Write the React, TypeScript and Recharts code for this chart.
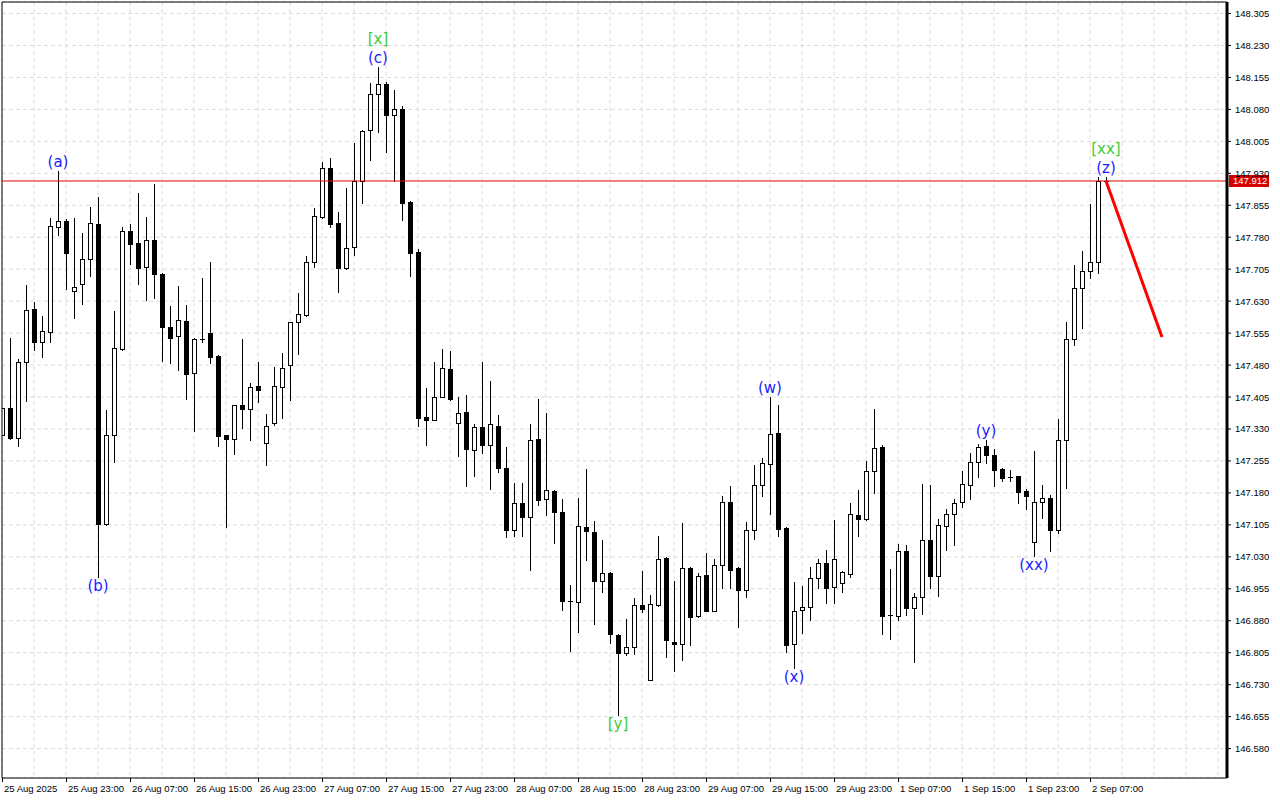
import React from 'react';
import { ComposedChart, Bar, XAxis, YAxis, CartesianGrid, ReferenceLine, ReferenceDot } from 'recharts';

// H1 bars, 25 Aug 15:00 .. 2 Sep 08:00 (index = bar number)
const opens = [
  147.317, 147.379, 147.308, 147.487, 147.611, 147.533, 147.558, 147.805, 147.819, 147.654,
  147.671, 147.729, 147.811, 147.108, 147.315, 147.518, 147.795, 147.766, 147.710, 147.774,
  147.694, 147.569, 147.548, 147.583, 147.461, 147.541, 147.555, 147.501, 147.315, 147.306,
  147.386, 147.376, 147.430, 147.297, 147.343, 147.428, 147.479, 147.580, 147.597, 147.722,
  147.828, 147.942, 147.813, 147.707, 147.756, 147.913, 148.031, 148.116, 148.139, 148.066,
  148.082, 147.862, 147.745, 147.358, 147.352, 147.405, 147.470, 147.345, 147.370, 147.280,
  147.334, 147.293, 147.338, 147.238, 147.092, 147.156, 147.124, 147.306, 147.165, 147.184,
  147.136, 146.927, 146.925, 147.101, 147.089, 146.974, 146.991, 146.846, 146.805, 146.818,
  146.916, 146.742, 146.917, 147.027, 146.829, 146.825, 147.003, 146.892, 146.987, 146.904,
  147.012, 147.158, 147.004, 146.951, 147.094, 147.198, 147.247, 147.321, 147.097, 146.825,
  146.905, 146.912, 146.980, 147.015, 146.959, 146.968, 146.989, 147.128, 147.119, 147.231,
  147.287, 146.893, 146.892, 147.043, 146.911, 146.935, 147.069, 146.984, 147.102, 147.130,
  147.158, 147.198, 147.252, 147.289, 147.270, 147.235, 147.218, 147.219, 147.184, 147.064,
  147.158, 147.167, 147.092, 147.303, 147.541, 147.660, 147.700, 147.721, 147.912,
];
const highs = [
  147.380, 147.543, 147.494, 147.668, 147.628, 147.595, 147.825, 147.936, 147.823, 147.824,
  147.791, 147.852, 147.875, 147.374, 147.607, 147.804, 147.811, 147.884, 147.828, 147.905,
  147.696, 147.619, 147.666, 147.621, 147.544, 147.685, 147.721, 147.503, 147.317, 147.387,
  147.541, 147.437, 147.487, 147.366, 147.475, 147.509, 147.582, 147.649, 147.736, 147.848,
  147.956, 147.965, 147.839, 147.895, 148.001, 148.031, 148.141, 148.179, 148.144, 148.125,
  148.089, 147.864, 147.752, 147.426, 147.487, 147.518, 147.513, 147.406, 147.409, 147.341,
  147.487, 147.443, 147.364, 147.287, 147.204, 147.204, 147.342, 147.400, 147.367, 147.186,
  147.165, 146.965, 147.168, 147.235, 147.115, 147.069, 146.994, 146.850, 146.885, 146.933,
  146.996, 146.940, 147.079, 147.029, 146.973, 147.109, 147.005, 146.991, 147.038, 147.025,
  147.173, 147.196, 147.006, 147.111, 147.245, 147.261, 147.405, 147.386, 147.099, 146.971,
  146.961, 147.006, 147.024, 147.046, 147.116, 146.997, 147.156, 147.187, 147.255, 147.377,
  147.292, 147.001, 147.060, 147.058, 146.944, 147.201, 147.198, 147.118, 147.142, 147.166,
  147.231, 147.273, 147.294, 147.304, 147.282, 147.239, 147.233, 147.220, 147.189, 147.278,
  147.198, 147.174, 147.353, 147.581, 147.714, 147.747, 147.858, 147.921, 147.922,
];
const lows = [
  147.316, 147.307, 147.290, 147.396, 147.516, 147.500, 147.535, 147.786, 147.659, 147.591,
  147.624, 147.690, 146.982, 147.105, 147.253, 147.516, 147.718, 147.671, 147.633, 147.637,
  147.490, 147.486, 147.468, 147.400, 147.326, 147.535, 147.486, 147.291, 147.100, 147.271,
  147.333, 147.305, 147.394, 147.245, 147.340, 147.356, 147.399, 147.507, 147.595, 147.709,
  147.826, 147.803, 147.652, 147.705, 147.739, 147.861, 147.962, 148.028, 147.981, 147.913,
  147.821, 147.688, 147.337, 147.292, 147.350, 147.404, 147.397, 147.267, 147.196, 147.220,
  147.273, 147.190, 147.228, 147.076, 147.079, 147.079, 146.998, 147.152, 147.129, 147.062,
  146.905, 146.809, 146.854, 147.023, 146.873, 146.948, 146.828, 146.659, 146.799, 146.802,
  146.900, 146.740, 146.915, 146.794, 146.763, 146.789, 146.824, 146.889, 146.902, 146.902,
  146.957, 146.957, 146.866, 146.936, 147.072, 147.173, 147.130, 147.079, 146.807, 146.768,
  146.852, 146.881, 146.957, 146.921, 146.922, 146.948, 146.982, 147.079, 147.117, 147.180,
  146.849, 146.838, 146.881, 146.893, 146.784, 146.897, 146.958, 146.937, 147.046, 147.058,
  147.148, 147.165, 147.218, 147.251, 147.197, 147.209, 147.209, 147.156, 147.143, 147.031,
  147.120, 147.044, 147.087, 147.192, 147.526, 147.568, 147.684, 147.695, 147.910,
];
const closes = [
  147.379, 147.310, 147.487, 147.609, 147.533, 147.559, 147.806, 147.819, 147.742, 147.664,
  147.730, 147.813, 147.107, 147.315, 147.519, 147.795, 147.764, 147.707, 147.774, 147.693,
  147.570, 147.544, 147.585, 147.460, 147.541, 147.540, 147.499, 147.314, 147.306, 147.386,
  147.376, 147.428, 147.421, 147.338, 147.430, 147.473, 147.580, 147.599, 147.722, 147.829,
  147.942, 147.812, 147.707, 147.754, 147.911, 148.029, 148.116, 148.139, 148.066, 148.080,
  147.861, 147.744, 147.356, 147.352, 147.406, 147.472, 147.400, 147.367, 147.282, 147.334,
  147.293, 147.341, 147.239, 147.093, 147.156, 147.124, 147.303, 147.164, 147.186, 147.136,
  146.927, 146.926, 147.102, 147.090, 146.974, 146.991, 146.848, 146.805, 146.818, 146.916,
  146.907, 146.919, 147.026, 146.834, 146.825, 147.003, 146.889, 146.984, 146.904, 147.012,
  147.158, 147.000, 146.951, 147.092, 147.198, 147.250, 147.318, 147.096, 146.824, 146.904,
  146.912, 146.980, 147.015, 146.957, 147.026, 146.995, 147.130, 147.118, 147.231, 147.285,
  146.892, 146.891, 147.043, 146.911, 146.935, 147.069, 146.984, 147.104, 147.130, 147.156,
  147.200, 147.252, 147.287, 147.268, 147.233, 147.216, 147.216, 147.183, 147.173, 147.158,
  147.167, 147.092, 147.303, 147.541, 147.660, 147.700, 147.721, 147.912, 147.912,
];

// one label every 8 bars
const xTickLabels = [
  '25 Aug 2025', '25 Aug 23:00', '26 Aug 07:00', '26 Aug 15:00', '26 Aug 23:00', '27 Aug 07:00',
  '27 Aug 15:00', '27 Aug 23:00', '28 Aug 07:00', '28 Aug 15:00', '28 Aug 23:00', '29 Aug 07:00',
  '29 Aug 15:00', '29 Aug 23:00', '1 Sep 07:00', '1 Sep 15:00', '1 Sep 23:00', '2 Sep 07:00',
];

const yTicks = [
  146.58, 146.655, 146.73, 146.805, 146.88, 146.955, 147.03, 147.105, 147.18, 147.255, 147.33, 147.405,
  147.48, 147.555, 147.63, 147.705, 147.78, 147.855, 147.93, 148.005, 148.08, 148.155, 148.23, 148.305,
];

const currentPrice = 147.912;
const forecastFrom = { i: 138, price: 147.912 };
const forecastTo = { i: 145, price: 147.546 };

const BLUE = '#1c1cff';
const GREEN = '#3ccc3c';

const waveLabels = [
  { i: 7, text: '(a)', color: BLUE, at: 'high', row: 0 },
  { i: 12, text: '(b)', color: BLUE, at: 'low', row: 0 },
  { i: 47, text: '(c)', color: BLUE, at: 'high', row: 0 },
  { i: 47, text: '[x]', color: GREEN, at: 'high', row: 1 },
  { i: 77, text: '[y]', color: GREEN, at: 'low', row: 0 },
  { i: 96, text: '(w)', color: BLUE, at: 'high', row: 0 },
  { i: 99, text: '(x)', color: BLUE, at: 'low', row: 0 },
  { i: 123, text: '(y)', color: BLUE, at: 'high', row: 0 },
  { i: 129, text: '(xx)', color: BLUE, at: 'low', row: 0 },
  { i: 138, text: '(z)', color: BLUE, at: 'high', row: 0 },
  { i: 138, text: '[xx]', color: GREEN, at: 'high', row: 1 },
];

const data = opens.map((o, i) => ({
  i,
  open: o,
  high: highs[i],
  low: lows[i],
  close: closes[i],
  range: [lows[i], highs[i]],
}));

const xDomain: [number, number] = [0, 153.125];
const yDomain: [number, number] = [146.511, 148.332];
const gridTicks = Array.from({ length: 39 }, (_, k) => k * 4);

const AXIS_FONT = '"Liberation Sans", Arial, sans-serif';

const Candle = (props: any) => {
  const { x, y, width, height, payload } = props;
  if (x == null || y == null) return null;
  const { open, close, high, low } = payload;
  const top0 = Math.min(y, y + height);
  const h0 = Math.abs(height);
  const c = Math.round(x + width / 2);
  const span = high - low;
  const py = (p: number) => (span > 0 ? top0 + ((high - p) / span) * h0 : top0);
  const bull = close >= open;
  const bTop = Math.round(py(Math.max(open, close)));
  const bBot = Math.round(py(Math.min(open, close)));
  const bh = bBot - bTop;
  return (
    <g>
      <line x1={c + 0.5} x2={c + 0.5} y1={Math.round(top0)} y2={Math.round(top0 + h0) + 1} stroke="#000" strokeWidth={1} />
      {bh <= 1 ? (
        <line x1={c - 2} x2={c + 3} y1={bTop + 0.5} y2={bTop + 0.5} stroke="#000" strokeWidth={1} />
      ) : bull ? (
        <rect x={c - 1.5} y={bTop + 0.5} width={4} height={bh} fill="#fff" stroke="#000" strokeWidth={1} />
      ) : (
        <rect x={c - 2} y={bTop} width={5} height={bh + 1} fill="#000" />
      )}
    </g>
  );
};

const XTick = (props: any) => {
  const { x, y, payload } = props;
  const i = payload.value;
  if (i % 8 !== 0 || !xTickLabels[i / 8]) return <g />;
  const px = Math.round(x);
  return (
    <g>
      <line x1={px + 0.5} x2={px + 0.5} y1={y} y2={y + 4} stroke="#000" />
      <text x={px + 2} y={y + 14} textAnchor="start" fontSize={9.5} fontFamily={AXIS_FONT} fill="#000">
        {xTickLabels[i / 8]}
      </text>
    </g>
  );
};

const YTick = (props: any) => {
  const { x, y, payload } = props;
  return (
    <text x={x} y={y + 3.5} textAnchor="start" fontSize={9.5} fontFamily={AXIS_FONT} fill="#000">
      {Number(payload.value).toFixed(3)}
    </text>
  );
};

const PriceTag = (props: any) => {
  const vb = props.viewBox || {};
  const x0 = vb.x + vb.width + 2;
  const y0 = vb.y;
  return (
    <g>
      <rect x={x0} y={y0 - 6} width={40} height={12} fill="#d40000" />
      <text x={x0 + 4} y={y0 + 3.5} fontSize={9.5} fontFamily={AXIS_FONT} fill="#fff">
        {currentPrice.toFixed(3)}
      </text>
    </g>
  );
};

const waveShape = (w: any) => (props: any) => {
  const { cx, cy } = props;
  let dy;
  if (w.at === 'high') dy = w.row === 0 ? -4 : -23;
  else dy = 14;
  return (
    <text x={cx} y={cy + dy} textAnchor="middle" fontSize={15} fontFamily='"DejaVu Sans", sans-serif' fill={w.color}>
      {w.text}
    </text>
  );
};

export default function App() {
  return (
    <div style={{ position: 'absolute', left: 0, top: 0, width: 1280, height: 800, background: '#fff' }}>
      <ComposedChart width={1280} height={800} data={data} margin={{ top: 2, right: 0, left: 2, bottom: 0 }}>
        <CartesianGrid stroke="#dcdcdc" strokeDasharray="4 3" />
        <XAxis
          dataKey="i"
          type="number"
          domain={xDomain}
          allowDataOverflow
          ticks={gridTicks}
          interval={0}
          height={22}
          tickSize={0}
          tickMargin={0}
          tickLine={false}
          axisLine={{ stroke: '#000' }}
          tick={<XTick />}
        />
        <YAxis
          orientation="right"
          type="number"
          domain={yDomain}
          allowDataOverflow
          ticks={yTicks}
          interval={0}
          width={53}
          tickSize={4}
          tickMargin={4}
          tickLine={{ stroke: '#000' }}
          axisLine={{ stroke: '#000', strokeWidth: 3 }}
          tick={<YTick />}
        />
        <ReferenceLine x={xDomain[0]} stroke="#000" />
        <ReferenceLine y={yDomain[1]} stroke="#000" />
        <Bar dataKey="range" barSize={5} shape={<Candle />} isAnimationActive={false} />
        <ReferenceLine y={currentPrice} stroke="#e00000" strokeWidth={1} label={<PriceTag />} />
        <ReferenceLine
          segment={[
            { x: forecastFrom.i, y: forecastFrom.price },
            { x: forecastTo.i, y: forecastTo.price },
          ]}
          stroke="#ff0000"
          strokeWidth={3}
        />
        {waveLabels.map((w, k) => (
          <ReferenceDot
            key={k}
            x={w.i}
            y={w.at === 'high' ? highs[w.i] : lows[w.i]}
            r={0}
            ifOverflow="visible"
            shape={waveShape(w)}
          />
        ))}
      </ComposedChart>
    </div>
  );
}
